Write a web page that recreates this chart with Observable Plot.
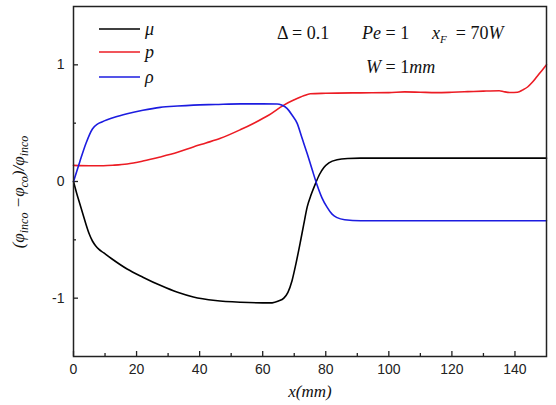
<!DOCTYPE html>
<html><head><meta charset="utf-8">
<script src="https://cdn.jsdelivr.net/npm/d3@7"></script>
<script src="https://cdn.jsdelivr.net/npm/@observablehq/plot@0.6"></script>
<style>body{margin:0;background:#fff}</style>
</head><body><div id="chart"></div>
<script>
// ---- data ----
const muX  = [0,1,2,3,4,5,6,7,8,9.5,12,17,22,27.5,33,38,45,53,60,63,65,66.7,68,69.3,70.5,72,73,74.1,75.4,76.7,78,79.4,81,83.6,87,91,100,120,150];
const muY  = [0,-0.1,-0.19,-0.28,-0.37,-0.45,-0.51,-0.55,-0.58,-0.61,-0.66,-0.75,-0.82,-0.89,-0.95,-0.99,-1.02,-1.035,-1.04,-1.04,-1.025,-1.0,-0.95,-0.85,-0.71,-0.51,-0.37,-0.22,-0.11,-0.02,0.06,0.12,0.16,0.187,0.197,0.2,0.2,0.2,0.2];
const pX   = [0,5,9.5,13,17,22,27.5,33,38,42,46.6,53,57.2,62,66.7,70,73,75.1,80,91,100,105,110,115,120,125,130,135,136.5,138.6,140.8,142.5,144,145.5,147,148.5,150];
const pY   = [0.138,0.135,0.135,0.14,0.15,0.175,0.21,0.25,0.296,0.33,0.37,0.445,0.5,0.57,0.655,0.7,0.735,0.752,0.756,0.76,0.762,0.768,0.765,0.762,0.765,0.77,0.775,0.778,0.77,0.763,0.765,0.785,0.81,0.85,0.9,0.95,1.0];
const rhoX = [0,2,4,6,7.5,9,13,17,22,27.5,33,38,45,53,60,64.6,66,67.7,69.3,70.9,72.5,74.1,75.7,77.3,78.8,80.4,82,83.6,86,91,120,150];
const rhoY = [0,0.17,0.33,0.45,0.49,0.51,0.55,0.58,0.61,0.635,0.647,0.655,0.66,0.665,0.665,0.664,0.655,0.627,0.57,0.5,0.37,0.24,0.1,-0.034,-0.14,-0.22,-0.28,-0.31,-0.328,-0.336,-0.336,-0.336];

const seriesNames  = ["μ", "p", "ρ"];
const seriesColors = ["#000000", "#ec1c24", "#1c1ce0"];

const xMajor = [0,20,40,60,80,100,120,140];
const xMinor = [10,30,50,70,90,110,130];
const yMajor = [-1,0,1];
const yMinor = [-0.5,0.5];

const toRows = (xs, ys, name) => xs.map((x,i) => ({x, y: ys[i], s: name}));
const rows = [
  ...toRows(muX, muY, "μ"),
  ...toRows(pX, pY, "p"),
  ...toRows(rhoX, rhoY, "ρ")
];

const W = 556, H = 405;
const mL = 73, mR = 10, mT = 6, mB = 49;
const pw = W - mL - mR, ph = H - mT - mB;
const serif = "'Liberation Serif','Times New Roman',serif";

// legend mark
function legendMark() {
  const g = d3.create("svg:g").attr("text-anchor", "start");
  const ys = [29, 52, 77];
  seriesNames.forEach((n, i) => {
    g.append("line").attr("x1", 99).attr("x2", 140).attr("y1", ys[i]).attr("y2", ys[i])
      .attr("stroke", seriesColors[i]).attr("stroke-width", 1.5);
    g.append("text").attr("x", 145).attr("y", ys[i]).attr("dy", "0.32em")
      .attr("font-family", serif).attr("font-style", "italic").attr("font-size", 18)
      .attr("fill", "#111").text(n);
  });
  return g.node();
}

// annotation mark
function annotMark() {
  const g = d3.create("svg:g").attr("text-anchor", "start").attr("font-family", serif).attr("font-size", 18).attr("fill", "#111");
  const t1 = g.append("text").attr("x", 277).attr("y", 39);
  t1.append("tspan").text("Δ = 0.1");
  const t2 = g.append("text").attr("x", 362).attr("y", 39);
  t2.append("tspan").attr("font-style", "italic").text("Pe");
  t2.append("tspan").text(" = 1");
  const t3 = g.append("text").attr("x", 432).attr("y", 39);
  t3.append("tspan").attr("font-style", "italic").text("x");
  t3.append("tspan").attr("font-style", "italic").attr("font-size", 11).attr("dy", 4).text("F");
  t3.append("tspan").attr("dy", -4).text("  = 70");
  t3.append("tspan").attr("font-style", "italic").text("W");
  const t4 = g.append("text").attr("x", 366).attr("y", 73);
  t4.append("tspan").attr("font-style", "italic").text("W");
  t4.append("tspan").text(" = 1");
  t4.append("tspan").attr("font-style", "italic").text("mm");
  return g.node();
}

// y-axis title
function yLabelMark() {
  const g = d3.create("svg:g");
  const t = g.append("text").attr("transform", "translate(24,192) rotate(-90)")
    .attr("text-anchor", "middle").attr("font-family", serif).attr("font-style", "italic")
    .attr("font-size", 17).attr("fill", "#111");
  const parts = [["(φ",0],["inco",1],[" −φ",0],["co",1],[")/φ",0],["inco",1]];
  let prev = 0;
  parts.forEach(([s, sub]) => {
    const sp = t.append("tspan").text(s);
    const dy = (sub ? 4 : 0) - prev;
    if (dy) sp.attr("dy", dy);
    if (sub) sp.attr("font-size", 12);
    prev = sub ? 4 : 0;
  });
  return g.node();
}

const chart = Plot.plot({
  width: W, height: H,
  marginLeft: mL, marginRight: mR, marginTop: mT, marginBottom: mB,
  style: {fontFamily: "Arial, 'Liberation Sans', sans-serif", fontSize: "14px", color: "#222", background: "#fff"},
  x: {domain: [0, 150]},
  y: {domain: [-1.5, 1.5]},
  color: {domain: seriesNames, range: seriesColors},
  marks: [
    Plot.ruleX(xMajor, {stroke: "#222", strokeWidth: 1.3, insetTop: ph - 5}),
    Plot.ruleX(xMinor, {stroke: "#222", strokeWidth: 1.3, insetTop: ph - 3}),
    Plot.ruleY(yMajor, {stroke: "#222", strokeWidth: 1.3, insetRight: pw - 5}),
    Plot.ruleY(yMinor, {stroke: "#222", strokeWidth: 1.3, insetRight: pw - 3}),
    Plot.axisX(xMajor, {tickSize: 0, tickPadding: 8, label: null, fill: "#222"}),
    Plot.axisY(yMajor, {tickSize: 0, tickPadding: 9, label: null, fill: "#222", tickFormat: d => String(d)}),
    Plot.line(rows, {x: "x", y: "y", z: "s", stroke: "s", strokeWidth: 1.6, curve: "monotone-x"}),
    Plot.frame({stroke: "#222", strokeWidth: 1.5}),
    Plot.text(["x(mm)"], {frameAnchor: "bottom", dy: 40, text: d => d, fontStyle: "italic", fontSize: 17, fontFamily: serif, fill: "#111"}),
    legendMark,
    annotMark,
    yLabelMark
  ]
});
document.getElementById("chart").append(chart);
</script></body></html>
